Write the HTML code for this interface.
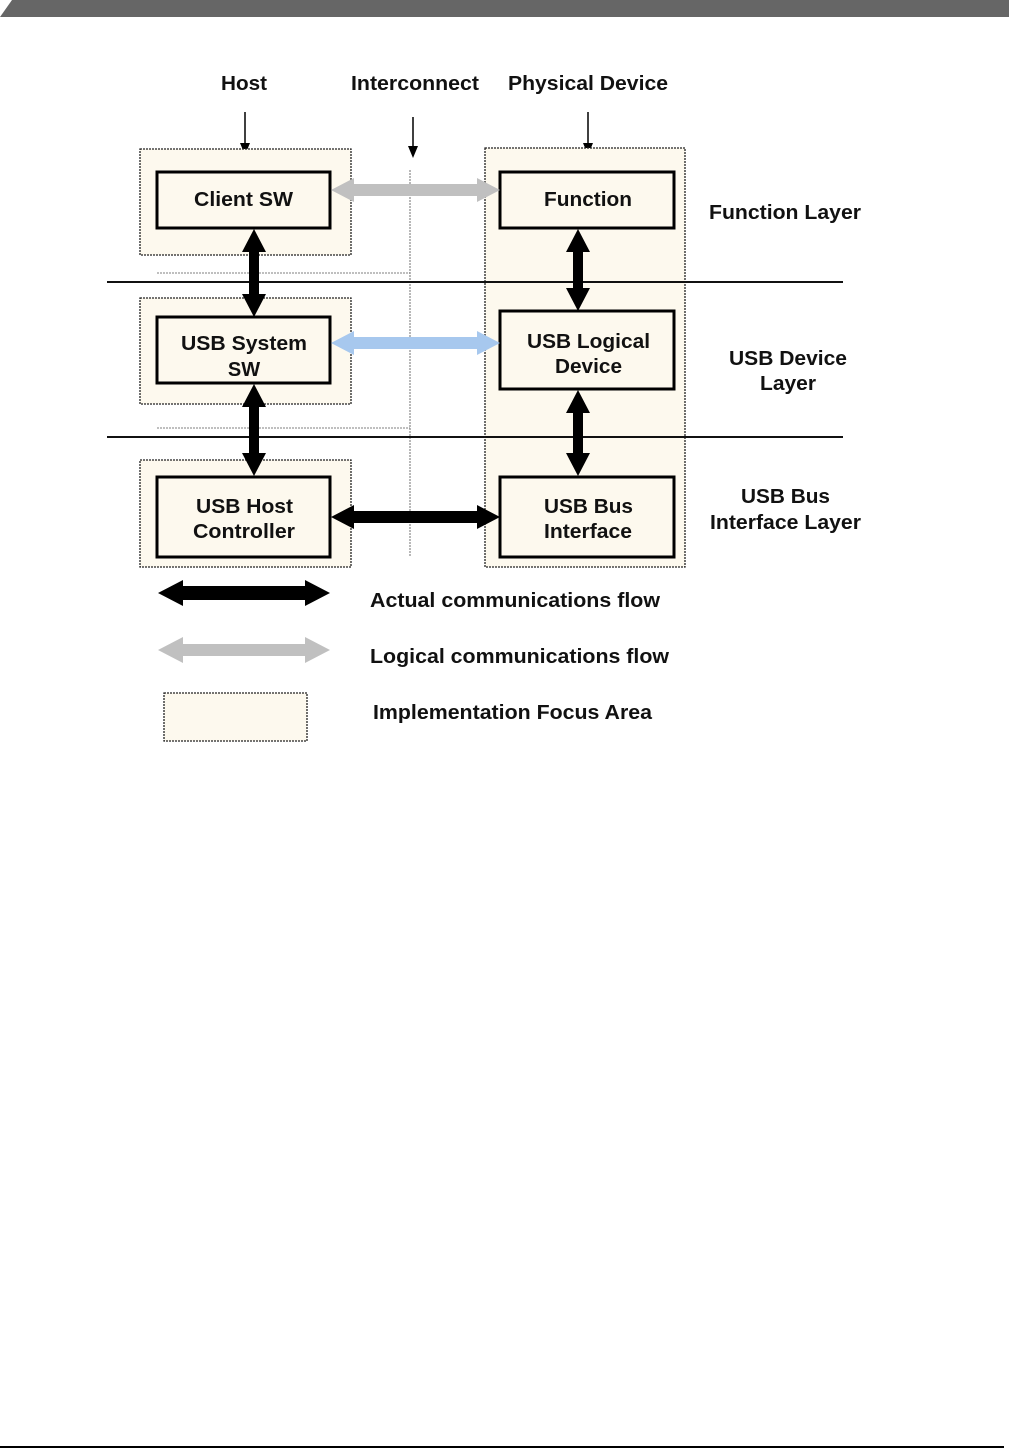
<!DOCTYPE html>
<html><head><meta charset="utf-8"><style>
html,body{margin:0;padding:0;background:#fff;}
svg{display:block;}
text{font-family:"Liberation Sans",sans-serif;font-weight:bold;font-size:20px;fill:#111;}
</style></head><body>
<svg width="1009" height="1449" viewBox="0 0 1009 1449" xmlns="http://www.w3.org/2000/svg">
<polygon points="12,0 1009,0 1009,17 0,17" fill="#666"/>
<line x1="0" y1="1447" x2="1004" y2="1447" stroke="#000" stroke-width="2"/>

<!-- column headers -->
<text x="221" y="90" textLength="46" lengthAdjust="spacingAndGlyphs">Host</text>
<text x="351" y="90" textLength="128" lengthAdjust="spacingAndGlyphs">Interconnect</text>
<text x="508" y="90" textLength="160" lengthAdjust="spacingAndGlyphs">Physical Device</text>
<g stroke="#000" stroke-width="1.5">
<line x1="245" y1="112" x2="245" y2="145"/>
<line x1="413" y1="117" x2="413" y2="148"/>
<line x1="588" y1="112" x2="588" y2="145"/>
</g>
<polygon points="240,143 250,143 245,155" fill="#000"/>
<polygon points="408,146 418,146 413,158" fill="#000"/>
<polygon points="583,143 593,143 588,155" fill="#000"/>

<!-- focus areas -->
<g fill="#fdf9ee" stroke="#222" stroke-width="1.3" stroke-dasharray="2,1">
<rect x="140" y="149" width="211" height="106"/>
<rect x="140" y="298" width="211" height="106"/>
<rect x="140" y="460" width="211" height="107"/>
<rect x="485" y="148" width="200" height="419"/>
</g>

<g stroke="#999" stroke-width="1.2" stroke-dasharray="2,1">
<line x1="157" y1="273" x2="410" y2="273"/>
<line x1="157" y1="428" x2="410" y2="428"/>
<line x1="410" y1="170" x2="410" y2="557" stroke="#888"/>
</g>

<g stroke="#111" stroke-width="2">
<line x1="107" y1="282" x2="843" y2="282"/>
<line x1="107" y1="437" x2="843" y2="437"/>
</g>

<g fill="#fdf9ee" stroke="#000" stroke-width="3">
<rect x="157" y="172" width="173" height="56"/>
<rect x="157" y="317" width="173" height="66"/>
<rect x="157" y="477" width="173" height="80"/>
<rect x="500" y="172" width="174" height="56"/>
<rect x="500" y="311" width="174" height="78"/>
<rect x="500" y="477" width="174" height="80"/>
</g>
<text x="194" y="206" textLength="99" lengthAdjust="spacingAndGlyphs">Client SW</text>
<text x="181" y="350" textLength="126" lengthAdjust="spacingAndGlyphs">USB System</text>
<text x="244" y="376" text-anchor="middle">SW</text>
<text x="196" y="513" textLength="97" lengthAdjust="spacingAndGlyphs">USB Host</text>
<text x="193" y="538" textLength="102" lengthAdjust="spacingAndGlyphs">Controller</text>
<text x="544" y="206" textLength="88" lengthAdjust="spacingAndGlyphs">Function</text>
<text x="527" y="348" textLength="123" lengthAdjust="spacingAndGlyphs">USB Logical</text>
<text x="555" y="373" textLength="67" lengthAdjust="spacingAndGlyphs">Device</text>
<text x="544" y="513" textLength="89" lengthAdjust="spacingAndGlyphs">USB Bus</text>
<text x="544" y="538" textLength="88" lengthAdjust="spacingAndGlyphs">Interface</text>

<text x="709" y="219" textLength="152" lengthAdjust="spacingAndGlyphs">Function Layer</text>
<text x="729" y="365" textLength="118" lengthAdjust="spacingAndGlyphs">USB Device</text>
<text x="760" y="390" textLength="56" lengthAdjust="spacingAndGlyphs">Layer</text>
<text x="741" y="503" textLength="89" lengthAdjust="spacingAndGlyphs">USB Bus</text>
<text x="710" y="529" textLength="151" lengthAdjust="spacingAndGlyphs">Interface Layer</text>

<polygon points="331,190 354,178 354,184 477,184 477,178 500,190 477,202 477,196 354,196 354,202" fill="#c0c0c0"/>
<polygon points="331,343 354,331 354,337 477,337 477,331 500,343 477,355 477,349 354,349 354,355" fill="#a7c8ee"/>
<polygon points="331,517 354,505 354,511 477,511 477,505 500,517 477,529 477,523 354,523 354,529" fill="#000"/>

<polygon points="254,229 266,252 259,252 259,294 266,294 254,317 242,294 249,294 249,252 242,252" fill="#000"/>
<polygon points="254,384 266,407 259,407 259,453 266,453 254,476 242,453 249,453 249,407 242,407" fill="#000"/>
<polygon points="578,229 590,252 583,252 583,288 590,288 578,311 566,288 573,288 573,252 566,252" fill="#000"/>
<polygon points="578,390 590,413 583,413 583,453 590,453 578,476 566,453 573,453 573,413 566,413" fill="#000"/>

<polygon points="158,593 183,580 183,586 305,586 305,580 330,593 305,606 305,600 183,600 183,606" fill="#000"/>
<polygon points="158,650 183,637 183,644 305,644 305,637 330,650 305,663 305,656 183,656 183,663" fill="#c0c0c0"/>
<rect x="164" y="693" width="143" height="48" fill="#fdf9ee" stroke="#222" stroke-width="1.3" stroke-dasharray="2,1"/>
<text x="370" y="607" textLength="290" lengthAdjust="spacingAndGlyphs">Actual communications flow</text>
<text x="370" y="663" textLength="299" lengthAdjust="spacingAndGlyphs">Logical communications flow</text>
<text x="373" y="719" textLength="279" lengthAdjust="spacingAndGlyphs">Implementation Focus Area</text>
</svg>
</body></html>
